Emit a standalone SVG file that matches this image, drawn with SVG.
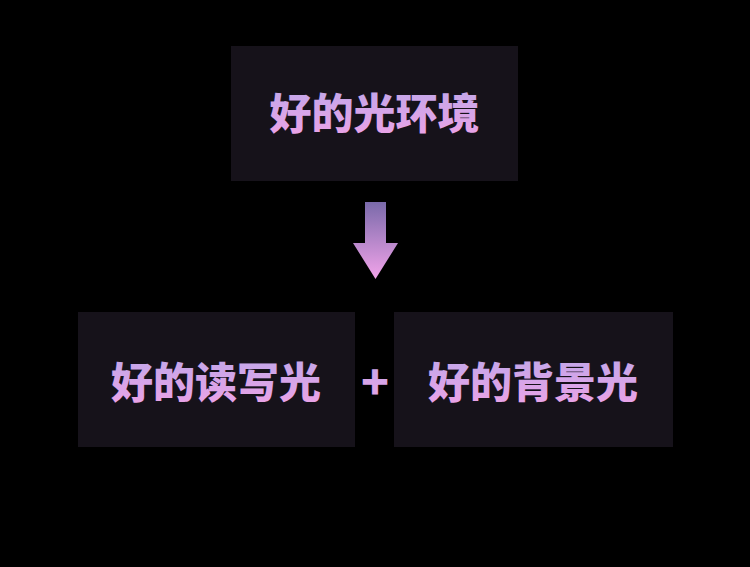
<svg xmlns="http://www.w3.org/2000/svg" width="750" height="567" viewBox="0 0 750 567">
<defs>
<linearGradient id="tg" x1="0" y1="0" x2="0" y2="1">
<stop offset="0" stop-color="#bba8ea"/>
<stop offset="1" stop-color="#eea2e6"/>
</linearGradient>
<linearGradient id="ag" x1="0" y1="0" x2="0" y2="1">
<stop offset="0" stop-color="#7a6aaa"/>
<stop offset="1" stop-color="#f2a4ea"/>
</linearGradient>
<style>
.box{fill:#16121a}
.t{font-family:"Noto Sans CJK SC","Noto Sans",sans-serif;font-weight:900;font-size:42px;fill:url(#tg);text-anchor:middle;dominant-baseline:central}
.p{font-size:46px}
</style>
</defs>
<rect width="750" height="567" fill="#000"/>
<g id="node-top">
<rect class="box" x="231" y="46" width="287" height="135"/>
<text class="t" x="374.5" y="110">好的光环境</text>
</g>
<g id="node-left">
<rect class="box" x="78" y="312" width="277" height="135"/>
<text class="t" x="216" y="379">好的读写光</text>
</g>
<g id="node-right">
<rect class="box" x="394" y="312" width="279" height="135"/>
<text class="t" x="533" y="379">好的背景光</text>
</g>
<g id="connectors">
<polygon points="365,202 386,202 386,243 398,243 375.5,279 353,243 365,243" fill="url(#ag)"/>
<text class="t p" x="375" y="379">+</text>
</g>
</svg>
